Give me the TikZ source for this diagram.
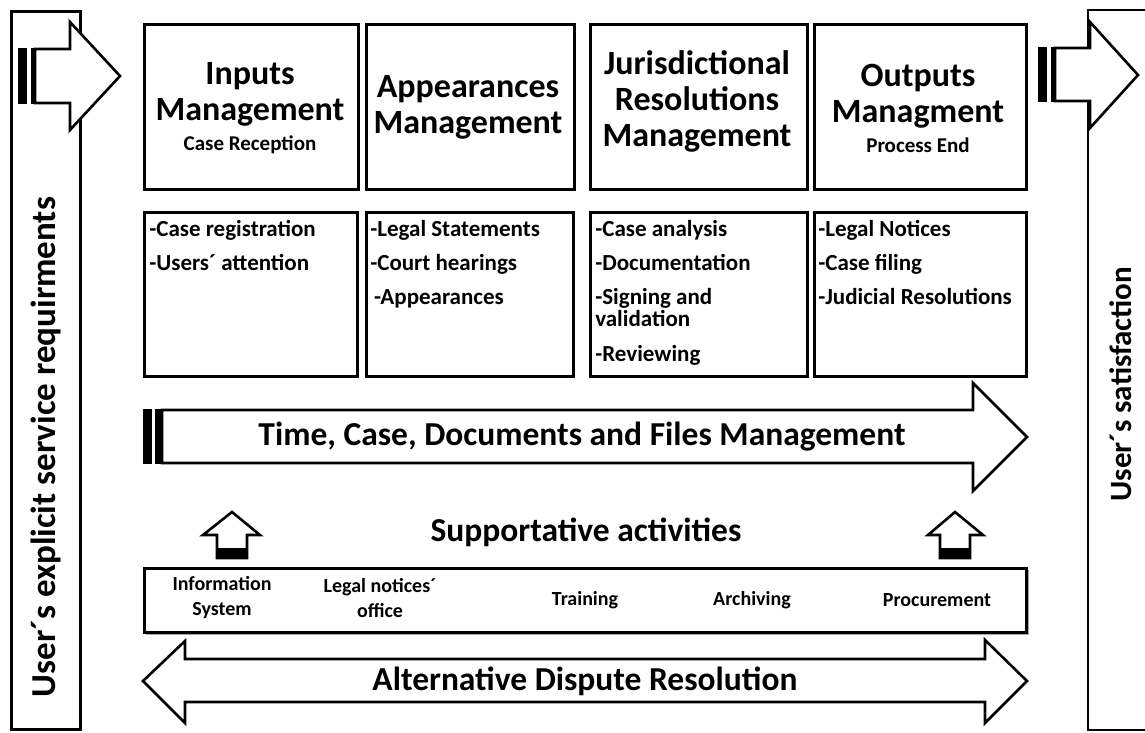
\documentclass[tikz,border=0pt]{standalone}
\usepackage{fontspec}
\setmainfont{Carlito}
\newcommand\subfnt{\bfseries\fontsize{21}{24}\selectfont}
\begin{document}
\begin{tikzpicture}[x=1pt,y=-1pt, line width=2.6pt, line join=miter,
  box/.style={draw, line width=2.6pt, inner sep=0, anchor=north west},
  ttl/.style={font=\bfseries\fontsize{34}{36}\selectfont, align=center, inner sep=0},
  lst/.style={font=\bfseries\fontsize{23}{24}\selectfont, align=left, anchor=north west, inner sep=0},
  itm/.style={font=\bfseries\fontsize{20}{25}\selectfont, align=center, inner sep=0},
  big/.style={font=\bfseries\fontsize{33.5}{36}\selectfont, inner sep=0},
  vert/.style={font=\bfseries\fontsize{35}{40}\selectfont, rotate=90, inner sep=0},
  vertr/.style={font=\bfseries\fontsize{31}{36}\selectfont, rotate=90, inner sep=0},
  arr/.style={draw, fill=white, line width=2.6pt}]
\useasboundingbox (0,0) rectangle (1145,732);
\clip (0,0) rectangle (1145,732);
\fill[white] (0,0) rectangle (1145,732);

% left vertical box
\node (lbox) [box, minimum width=69pt, minimum height=718pt] at (10,10) {};
\node (ltxt) [vert] at (46,447) {User´s explicit service requirments};
\path[arr] (35,49) -- (70,49) -- (70,22) -- (120,76) -- (70,130) -- (70,103) -- (35,103) -- cycle;
\fill (18,47.7) rectangle (27,104.3);
\fill (30.5,47.7) rectangle (35,104.3);

% right vertical box
\draw (1160,10) -- (1088,10) -- (1088,730) -- (1160,730);
\node (rtxt) [vertr] at (1121,384) {User´s satisfaction};
\path[arr] (1055,48) -- (1090,48) -- (1090,22) -- (1138,75) -- (1090,128) -- (1090,101) -- (1055,101) -- cycle;
\fill (1038,46.7) rectangle (1047,102.3);
\fill (1050.5,46.7) rectangle (1055,102.3);

% upper boxes
\node (u1) [box, minimum width=214pt, minimum height=165pt] at (143,23) {};
\node (u2) [box, minimum width=208pt, minimum height=165pt] at (365,23) {};
\node (u3) [box, minimum width=217pt, minimum height=165pt] at (589,23) {};
\node (u4) [box, minimum width=212pt, minimum height=165pt] at (813,23) {};
\node (t1) [ttl] at (250,108) {Inputs\\Management\\[-6pt]{\subfnt Case Reception}};
\node (t2) [ttl] at (468,107) {Appearances\\Management};
\node (t3) [ttl] at (697,101) {Jurisdictional\\Resolutions\\Management};
\node (t4) [ttl] at (918,108) {Outputs\\Managment\\[-6pt]{\subfnt Process End}};

% lower boxes
\node (l1) [box, minimum width=213pt, minimum height=164pt] at (143,211) {};
\node (l2) [box, minimum width=207pt, minimum height=164pt] at (365,211) {};
\node (l3) [box, minimum width=217pt, minimum height=164pt] at (589,211) {};
\node (l4) [box, minimum width=212pt, minimum height=164pt] at (813,211) {};
\node (s1) [lst] at (148,219) {-Case registration\\[10pt]-Users´ attention};
\node (s2) [lst] at (369,219) {-Legal Statements\\[10pt]-Court hearings\\[10pt]\,-Appearances};
\node (s3) [lst] at (594,219) {-Case analysis\\[10pt]-Documentation\\[10pt]-Signing and\\[-2pt]validation\\[11pt]-Reviewing};
\node (s4) [lst] at (817,219) {-Legal Notices\\[10pt]-Case filing\\[10pt]-Judicial Resolutions};

% time arrow
\path[arr] (162,410) -- (973,410) -- (973,383) -- (1027,437) -- (973,491) -- (973,463) -- (162,463) -- cycle;
\fill (143,408.7) rectangle (152,464.3);
\fill (155,408.7) rectangle (162,464.3);
\node (time) [big] at (582,437) {Time, Case, Documents and Files Management};

% up arrows
\path[arr] (217,558) -- (217,535) -- (203,535) -- (232,512) -- (260,535) -- (247,535) -- (247,558) -- cycle;
\fill (217,548) rectangle (247,558);
\path[arr] (940,558) -- (940,535) -- (928,535) -- (955,512) -- (983,535) -- (970,535) -- (970,558) -- cycle;
\fill (940,548) rectangle (970,558);
\node (supp) [big] at (586,532) {Supportative activities};

% supportive box
\fill[black!35] (146,570) rectangle (1029,635);
\node (sb) [box, fill=white, minimum width=882pt, minimum height=64pt] at (143,567) {};
\node (i1) [itm] at (222,598) {Information\\System};
\node (i2) [itm] at (380,598) {Legal notices´\\office};
\node (i3) [itm] at (585,600) {Training};
\node (i4) [itm] at (752,600) {Archiving};
\node (i5) [itm] at (937,600) {Procurement};

% ADR arrow
\path[arr] (143,681) -- (185,641) -- (185,659) -- (985,659) -- (985,640) -- (1027,681) -- (985,723) -- (985,702) -- (185,702) -- (185,723) -- cycle;
\node (adr) [big] at (585,681) {Alternative Dispute Resolution};
\end{tikzpicture}
\end{document}
